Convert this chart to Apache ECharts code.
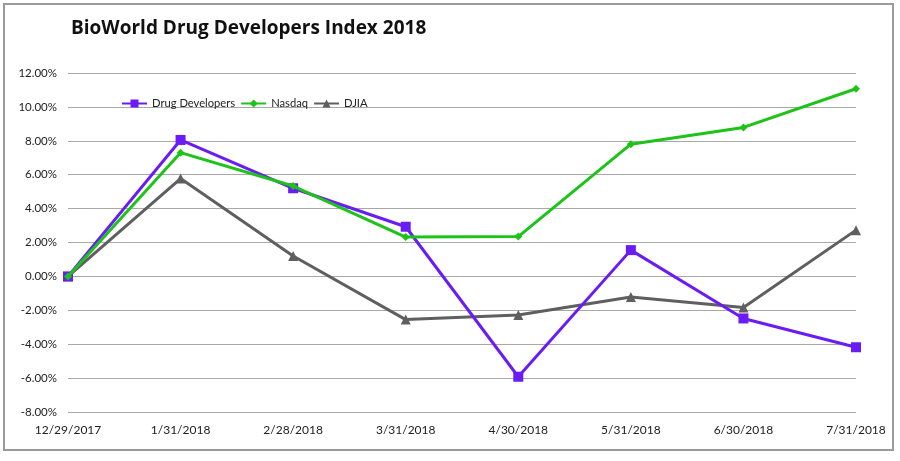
<!DOCTYPE html>
<html>
<head>
<meta charset="utf-8">
<script src="https://cdn.jsdelivr.net/npm/echarts@6/dist/echarts.min.js"></script>
<style>
html,body{margin:0;padding:0;background:#fff;}
#wrap{position:absolute;left:3px;top:3px;width:891px;height:448px;border:2px solid #9a9a9a;box-sizing:border-box;}
#chart{position:absolute;left:0;top:0;width:900px;height:461px;}
</style>
</head>
<body>
<div id="wrap"></div>
<div id="chart"></div>
<script>
var categories = ['12/29/2017','1/31/2018','2/28/2018','3/31/2018','4/30/2018','5/31/2018','6/30/2018','7/31/2018'];
var drugDevelopers = [0, 8.05, 5.20, 2.93, -5.92, 1.55, -2.48, -4.18];
var nasdaq = [0, 7.30, 5.33, 2.32, 2.35, 7.80, 8.79, 11.07];
var djia = [0, 5.77, 1.20, -2.55, -2.28, -1.22, -1.84, 2.73];
var yTicks = {min: -8, max: 12, interval: 2};

var chart = echarts.init(document.getElementById('chart'));
chart.setOption({
  backgroundColor: 'transparent',
  animation: false,
  title: {
    text: 'BioWorld Drug Developers Index 2018',
    left: 66, top: 14,
    textStyle: {fontFamily: 'Open Sans', fontWeight: 'bold', fontSize: 19, color: '#111'}
  },
  legend: {
    left: 116, top: 93,
    itemWidth: 25, itemHeight: 10, itemGap: 5,
    textStyle: {fontFamily: 'Lato', fontSize: 11.2, color: '#222'},
    data: ['Drug Developers','Nasdaq','DJIA']
  },
  grid: {left: 68, right: 44, top: 73, bottom: 49},
  xAxis: {
    type: 'category',
    data: categories,
    boundaryGap: false,
    axisLine: {show: false, onZero: false},
    axisTick: {show: false},
    axisLabel: {fontFamily: 'Lato', fontSize: 12, color: '#222', margin: 12, interval: 0}
  },
  yAxis: {
    type: 'value',
    min: yTicks.min, max: yTicks.max, interval: yTicks.interval,
    axisLine: {show: false},
    axisTick: {show: false},
    splitLine: {lineStyle: {color: '#a8a8a8', width: 1}},
    axisLabel: {
      fontFamily: 'Lato', fontSize: 11.5, color: '#222', margin: 11,
      formatter: function(v){ return v.toFixed(2) + '%'; }
    }
  },
  series: [
    {name: 'Drug Developers', type: 'line', data: drugDevelopers, symbol: 'rect', symbolSize: 10,
     lineStyle: {width: 3, color: '#6a1cf6'}, itemStyle: {color: '#6a1cf6'}, z: 3},
    {name: 'Nasdaq', type: 'line', data: nasdaq, symbol: 'diamond', symbolSize: 8,
     lineStyle: {width: 3, color: '#1ec31a'}, itemStyle: {color: '#1ec31a'}, z: 4},
    {name: 'DJIA', type: 'line', data: djia, symbol: 'triangle', symbolSize: 10,
     lineStyle: {width: 3, color: '#5f5f5f'}, itemStyle: {color: '#5f5f5f'}, z: 2}
  ]
});
</script>
</body>
</html>
